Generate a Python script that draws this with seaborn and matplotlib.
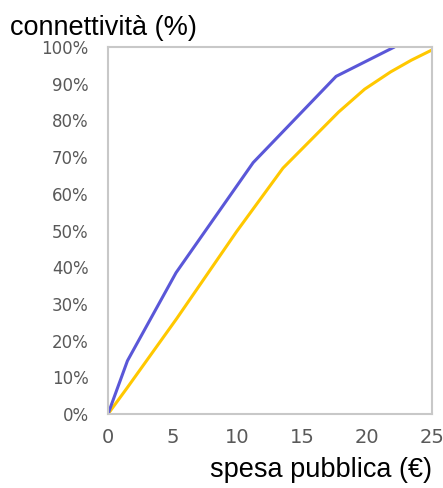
import matplotlib
matplotlib.use('Agg')
import matplotlib.pyplot as plt
import pandas as pd
import seaborn as sns
from matplotlib.ticker import FuncFormatter

# Data
blue_x = [0, 1.5, 5.25, 11.2, 17.6, 22.1]
blue_y = [0, 14.5, 38.5, 68.5, 92.0, 100]
yellow_x = [0, 1.45, 5.3, 9.9, 13.5, 17.8, 19.8, 21.8, 23.4, 25]
yellow_y = [0, 7.0, 26.0, 49.6, 67.0, 82.3, 88.5, 93.2, 96.4, 99.2]

x_ticks = [0, 5, 10, 15, 20, 25]
y_ticks = [0, 10, 20, 30, 40, 50, 60, 70, 80, 90, 100]

df_blue = pd.DataFrame({'spesa': blue_x, 'conn': blue_y})
df_yellow = pd.DataFrame({'spesa': yellow_x, 'conn': yellow_y})

sns.set_style('white')
plt.rcParams['font.family'] = ['Liberation Sans', 'DejaVu Sans']

fig = plt.figure(figsize=(4.43, 4.88), dpi=100)
ax = fig.add_axes([0.2438, 0.1516, 0.7314, 0.7521])

sns.lineplot(data=df_yellow, x='spesa', y='conn', color='#FFC800', linewidth=2.2, ax=ax)
sns.lineplot(data=df_blue, x='spesa', y='conn', color='#5A57D8', linewidth=2.2, ax=ax)

ax.set_xlim(0, 25)
ax.set_ylim(0, 100)
ax.set_xticks(x_ticks)
ax.set_yticks(y_ticks)
ax.yaxis.set_major_formatter(FuncFormatter(lambda v, p: f'{int(v)}%'))

for s in ax.spines.values():
    s.set_color('#C8C8C8')
    s.set_linewidth(1.5)
    s.set_visible(True)

ax.tick_params(axis='both', direction='in', length=7, width=1.2, color='#C8C8C8',
               labelcolor='#595959')
for lab in ax.get_xticklabels():
    lab.set_family('DejaVu Sans')
    lab.set_fontsize(14)
for lab in ax.get_yticklabels():
    lab.set_family('DejaVu Sans')
    lab.set_fontsize(12)
ax.tick_params(axis='x', pad=10)
ax.tick_params(axis='y', pad=14)

ax.set_xlabel('')
ax.set_ylabel('')
fig.text(0.022, 0.928, 'connettività (%)', fontsize=19.5, color='black', ha='left', va='baseline')
fig.text(0.975, 0.022, 'spesa pubblica (€)', fontsize=19.5, color='black', ha='right', va='baseline')

fig.savefig('out.png', dpi=100)
